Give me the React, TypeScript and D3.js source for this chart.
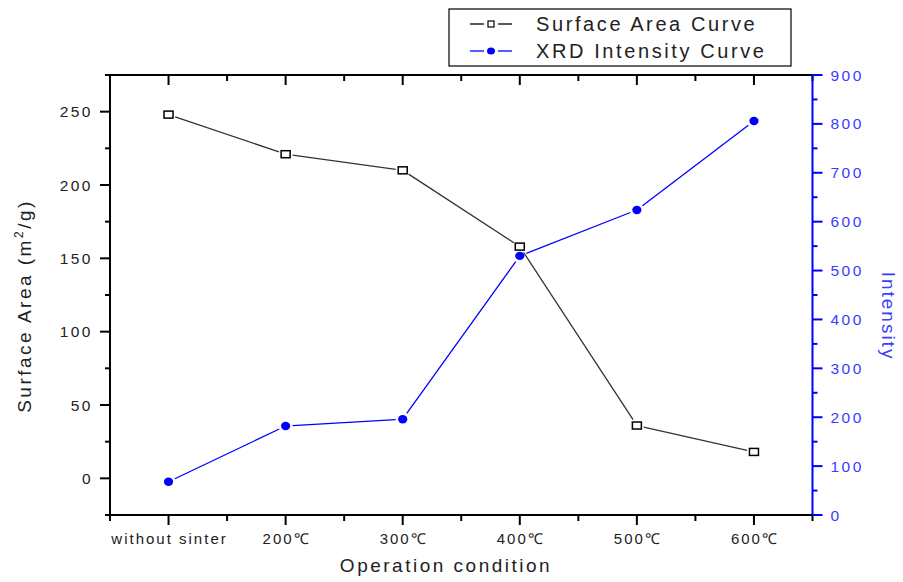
import React from "react";
import * as d3 from "d3";

const categories = ["without sinter", "200℃", "300℃", "400℃", "500℃", "600℃"];
const surfaceArea = [248, 221, 210, 158, 36, 18];
const intensity = [68, 182, 196, 530, 624, 806];
const leftTicks = [0, 50, 100, 150, 200, 250];
const rightTicks = [0, 100, 200, 300, 400, 500, 600, 700, 800, 900];

const W = 903;
const H = 582;
const FONT = "'Liberation Sans', Arial, sans-serif";
const BLUE = "#0000ff";
const BLUE_TEXT = "#3c3cff";

const x = d3.scaleLinear().domain([-0.5, 5.5]).range([110, 812.5]);
const yL = d3.scaleLinear().domain([-25, 275]).range([515, 75]);
const yR = d3.scaleLinear().domain([0, 900]).range([515, 75]);

// line segments between consecutive markers, trimmed so they stop short of the symbols
function gappedSegments(pts: [number, number][], gap: number) {
  const segs: { x1: number; y1: number; x2: number; y2: number }[] = [];
  for (let i = 0; i < pts.length - 1; i++) {
    const [ax, ay] = pts[i];
    const [bx, by] = pts[i + 1];
    const len = Math.hypot(bx - ax, by - ay);
    const ux = (bx - ax) / len;
    const uy = (by - ay) / len;
    segs.push({ x1: ax + ux * gap, y1: ay + uy * gap, x2: bx - ux * gap, y2: by - uy * gap });
  }
  return segs;
}

export default function App() {
  const [x0, x1] = x.range();
  const top = yL.range()[1];
  const bottom = yL.range()[0];

  const saPts: [number, number][] = surfaceArea.map((v, i) => [x(i), yL(v)]);
  const inPts: [number, number][] = intensity.map((v, i) => [x(i), yR(v)]);

  const xMajor = d3.range(categories.length);
  const xMinor = d3.range(-0.5, 5.6, 1);
  const leftMinor = d3.range(-25, 276, 50);
  const rightMinor = d3.range(50, 900, 100);

  return (
    <svg width={W} height={H} style={{ display: "block", position: "absolute", left: 0, top: 0, background: "#fff" }}>
      <rect x={0} y={0} width={W} height={H} fill="#fff" />

      {/* frame: bottom and top axes */}
      <g stroke="#000" strokeWidth={2} fill="none">
        <line x1={x0} y1={bottom} x2={x1} y2={bottom} />
        <line x1={x0} y1={top} x2={x1} y2={top} />
        <line x1={x0} y1={top} x2={x0} y2={bottom} />
      </g>

      {/* bottom ticks (outward) and top ticks (inward) */}
      <g stroke="#000" strokeWidth={2}>
        {xMajor.map((i) => (
          <g key={"xm" + i}>
            <line x1={x(i)} y1={bottom} x2={x(i)} y2={bottom + 10} />
            <line x1={x(i)} y1={top} x2={x(i)} y2={top + 10} />
          </g>
        ))}
        {xMinor.map((v, i) => (
          <g key={"xn" + i}>
            <line x1={x(v)} y1={bottom} x2={x(v)} y2={bottom + 6} />
            <line x1={x(v)} y1={top} x2={x(v)} y2={top + 6} />
          </g>
        ))}
      </g>

      {/* left axis ticks */}
      <g stroke="#000" strokeWidth={2}>
        {leftTicks.map((v) => (
          <line key={"lm" + v} x1={x0} y1={yL(v)} x2={x0 - 10} y2={yL(v)} />
        ))}
        {leftMinor.map((v) => (
          <line key={"ln" + v} x1={x0} y1={yL(v)} x2={x0 - 5} y2={yL(v)} />
        ))}
      </g>
      <g fontFamily={FONT} fontSize={15.5} fill="#222" letterSpacing={2.5}>
        {leftTicks.map((v) => (
          <text key={"lt" + v} x={x0 - 17} y={yL(v)} dy="0.36em" textAnchor="end">
            {v}
          </text>
        ))}
      </g>

      {/* right axis, blue */}
      <g stroke={BLUE} strokeWidth={2}>
        <line x1={x1} y1={top} x2={x1} y2={bottom} />
        {rightTicks.map((v) => (
          <line key={"rm" + v} x1={x1} y1={yR(v)} x2={x1 + 10} y2={yR(v)} />
        ))}
        {rightMinor.map((v) => (
          <line key={"rn" + v} x1={x1} y1={yR(v)} x2={x1 + 5} y2={yR(v)} />
        ))}
      </g>
      <g fontFamily={FONT} fontSize={15.5} fill={BLUE_TEXT} letterSpacing={2.5}>
        {rightTicks.map((v) => (
          <text key={"rt" + v} x={x1 + 18} y={yR(v)} dy="0.36em" textAnchor="start">
            {v}
          </text>
        ))}
      </g>

      {/* category labels */}
      <g fontFamily={FONT} fontSize={15} fill="#222" letterSpacing={2}>
        {categories.map((c, i) => (
          <text key={c} x={x(i) + 1} y={544} textAnchor="middle">
            {c}
          </text>
        ))}
      </g>

      {/* axis titles */}
      <text x={446} y={572} textAnchor="middle" fontFamily={FONT} fontSize={19} fill="#222" letterSpacing={2.5}>
        Operation condition
      </text>
      <text
        transform={`translate(31,306) rotate(-90)`}
        textAnchor="middle"
        fontFamily={FONT}
        fontSize={19}
        fill="#222"
        letterSpacing={2.5}
      >
        Surface Area (m<tspan dy={-8} fontSize={12}>2</tspan>
        <tspan dy={8}>/g)</tspan>
      </text>
      <text
        transform={`translate(882,316) rotate(90)`}
        textAnchor="middle"
        fontFamily={FONT}
        fontSize={19}
        fill={BLUE_TEXT}
        letterSpacing={2}
      >
        Intensity
      </text>

      {/* surface area series */}
      <g stroke="#333" strokeWidth={1.3}>
        {gappedSegments(saPts, 7).map((s, i) => (
          <line key={"sa" + i} {...s} />
        ))}
      </g>
      <g fill="#fff" stroke="#000" strokeWidth={1.5}>
        {saPts.map(([px, py], i) => (
          <rect key={"sq" + i} x={px - 4.5} y={py - 3.5} width={9} height={7} />
        ))}
      </g>

      {/* XRD intensity series */}
      <g stroke={BLUE} strokeWidth={1.3}>
        {gappedSegments(inPts, 7).map((s, i) => (
          <line key={"in" + i} {...s} />
        ))}
      </g>
      <g fill={BLUE}>
        {inPts.map(([px, py], i) => (
          <ellipse key={"ci" + i} cx={px} cy={py} rx={4.6} ry={4.2} />
        ))}
      </g>

      {/* legend */}
      <g>
        <rect x={449} y={9} width={342} height={57} fill="#fff" stroke="#000" strokeWidth={1.2} />
        <line x1={470} y1={24} x2={484} y2={24} stroke="#000" strokeWidth={1.3} />
        <rect x={488} y={21} width={6} height={6} fill="#fff" stroke="#000" strokeWidth={1.2} />
        <line x1={498} y1={24} x2={512} y2={24} stroke="#000" strokeWidth={1.3} />
        <text x={536} y={24} dy="0.36em" fontFamily={FONT} fontSize={20} fill="#222" letterSpacing={2.6}>
          Surface Area Curve
        </text>
        <line x1={470} y1={51} x2={484} y2={51} stroke={BLUE} strokeWidth={1.3} />
        <ellipse cx={491} cy={51} rx={4} ry={3.6} fill={BLUE} />
        <line x1={498} y1={51} x2={512} y2={51} stroke={BLUE} strokeWidth={1.3} />
        <text x={536} y={51} dy="0.36em" fontFamily={FONT} fontSize={20} fill="#222" letterSpacing={2.6}>
          XRD Intensity Curve
        </text>
      </g>
    </svg>
  );
}
